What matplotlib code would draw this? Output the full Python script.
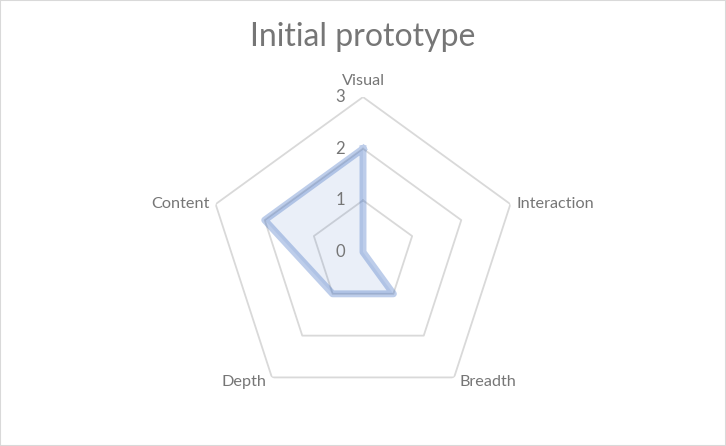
import numpy as np
import matplotlib.pyplot as plt
from matplotlib.patches import Rectangle
import matplotlib.transforms as mtransforms

categories = ["Visual", "Interaction", "Breadth", "Depth", "Content"]
values = [2, 0, 1, 1, 2]
rings = [1, 2, 3]
tick_labels = ["0", "1", "2", "3"]

plt.rcParams['font.family'] = ['Lato', 'DejaVu Sans']
text_col = "#767676"
grid_col = "#D9D9D9"

n = len(categories)
ang = np.arange(n) * 2 * np.pi / n
ang_c = np.append(ang, ang[0])

fig = plt.figure(figsize=(7.26, 4.46), dpi=100)
fig.patches.append(Rectangle((0, 0), 1, 1, transform=fig.transFigure,
                             fill=False, edgecolor=grid_col, lw=1.5))

ax = fig.add_axes([0.2865, 0.0874, 0.427, 0.695], projection='polar')
ax.set_theta_zero_location('N')
ax.set_theta_direction(-1)
ax.set_ylim(0, 3)
ax.grid(False)
ax.set_xticks([])
ax.set_yticks([])
ax.spines['polar'].set_visible(False)
ax.patch.set_visible(False)

for r in rings:
    ax.plot(ang_c, [r] * (n + 1), color=grid_col, lw=1.3, zorder=1)

vals_c = np.append(values, values[0])
ax.fill(ang_c, vals_c, color="#4472C4", alpha=0.11, lw=0, zorder=2)
ax.plot(ang_c, vals_c, color="#4472C4", alpha=0.35, lw=5,
        solid_joinstyle='round', zorder=3)

# value labels along the vertical axis
off = mtransforms.offset_copy(ax.transData, fig=fig, x=-23, y=0, units='dots')
for i, t in enumerate(tick_labels):
    ax.text(0, i, t, transform=off, ha='center', va='center',
            fontsize=12, color=text_col)

# category labels
ha_list = ['center', 'left', 'left', 'right', 'right']
va_list = ['bottom', 'center', 'center', 'center', 'center']
pad = [(0, 9), (6, 0), (5, 5), (-5, 5), (-6, 0)]
for a, c, ha, va, p in zip(ang, categories, ha_list, va_list, pad):
    tr = mtransforms.offset_copy(ax.transData, fig=fig, x=p[0], y=p[1] if va == 'bottom' else -p[1], units='dots')
    ax.text(a, 3, c, transform=tr, ha=ha, va=va, fontsize=11.7, color=text_col)

fig.text(0.5, 1 - 37 / 446, "Initial prototype", ha='center', va='center',
         fontsize=23, color=text_col)

fig.savefig("out.png", dpi=100)
